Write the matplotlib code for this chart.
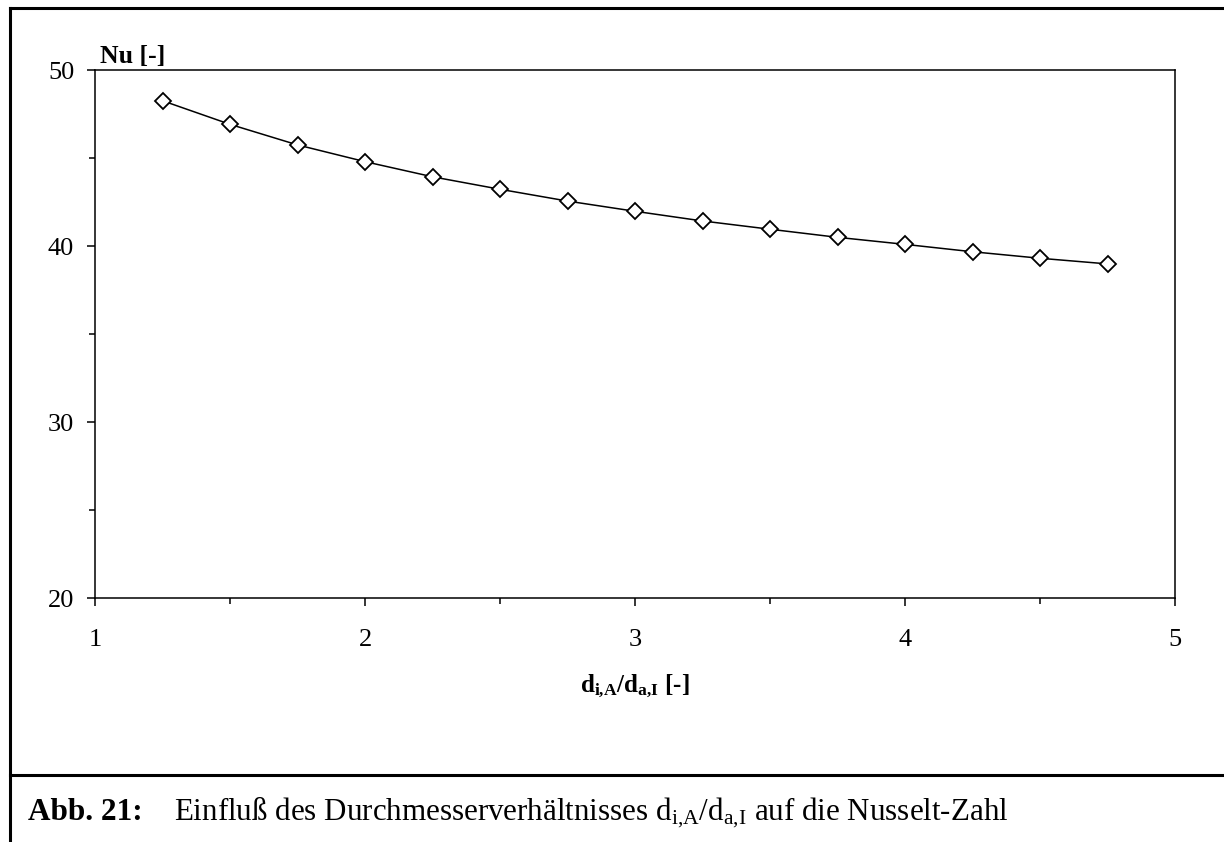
import matplotlib
matplotlib.use("Agg")
import matplotlib.pyplot as plt
from matplotlib.lines import Line2D
from matplotlib.ticker import MultipleLocator

# d_i,A / d_a,I ratio and Nusselt number
ratio = [1.25, 1.5, 1.75, 2.0, 2.25, 2.5, 2.75, 3.0, 3.25, 3.5, 3.75, 4.0, 4.25, 4.5, 4.75]
nusselt = [48.27, 46.93, 45.76, 44.81, 43.95, 43.24, 42.57, 41.99, 41.44, 40.97,
           40.51, 40.11, 39.69, 39.32, 39.00]
x_ticks = [1, 2, 3, 4, 5]
y_ticks = [20, 30, 40, 50]

plt.rcParams["font.family"] = ["Liberation Serif", "DejaVu Serif"]
plt.rcParams["mathtext.fontset"] = "custom"
plt.rcParams["mathtext.rm"] = "Liberation Serif"
plt.rcParams["mathtext.it"] = "Liberation Serif:italic"
plt.rcParams["mathtext.bf"] = "Liberation Serif:bold"

W, H = 1224, 842
fig = plt.figure(figsize=(W / 100, H / 100), dpi=100)
ax = fig.add_axes([95 / W, 1 - 598.3 / H, (1175 - 95) / W, (598.3 - 70.3) / H])

ax.plot(ratio, nusselt, color="black", lw=1.1, marker="D", ms=8,
        mfc="white", mec="black", mew=1.3)

ax.set_xlim(1, 5)
ax.set_ylim(20, 50)
ax.set_xticks(x_ticks)
ax.set_yticks(y_ticks)
ax.xaxis.set_minor_locator(MultipleLocator(0.5))
ax.yaxis.set_minor_locator(MultipleLocator(5))
ax.tick_params(which="major", direction="out", length=6, width=1.1, labelsize=19)
ax.tick_params(which="minor", direction="out", length=4.5, width=1.1)
ax.tick_params(axis="x", pad=16)
ax.tick_params(axis="y", pad=9)
for s in ax.spines.values():
    s.set_linewidth(1.1)

fig.text(100 / W, 1 - 63 / H, "Nu [-]", fontsize=18.5, fontweight="bold",
         ha="left", va="baseline")
fig.text(635 / W, 1 - 692 / H, r"$\mathbf{d_{i{,}A}/d_{a{,}I}}$ [-]", fontsize=18,
         fontweight="bold", ha="center", va="baseline")

# page frame around the figure
frame = dict(color="black", lw=2.2, transform=fig.transFigure)
fig.add_artist(Line2D([10 / W, 1], [1 - 8 / H, 1 - 8 / H], **frame))
fig.add_artist(Line2D([10 / W, 10 / W], [0, 1 - 8 / H], **frame))
fig.add_artist(Line2D([10 / W, 1], [1 - 775 / H, 1 - 775 / H], **frame))

# caption
cap_y = 1 - 820 / H
fig.text(28 / W, cap_y, "Abb. 21:", fontsize=22.5, fontweight="bold",
         ha="left", va="baseline")
fig.text(174 / W, cap_y,
         r"Einfluß des Durchmesserverhältnisses $\mathrm{d_{i{,}A}/d_{a{,}I}}$ auf die Nusselt-Zahl",
         fontsize=22.3, ha="left", va="baseline")

fig.savefig("out.png", dpi=100)
